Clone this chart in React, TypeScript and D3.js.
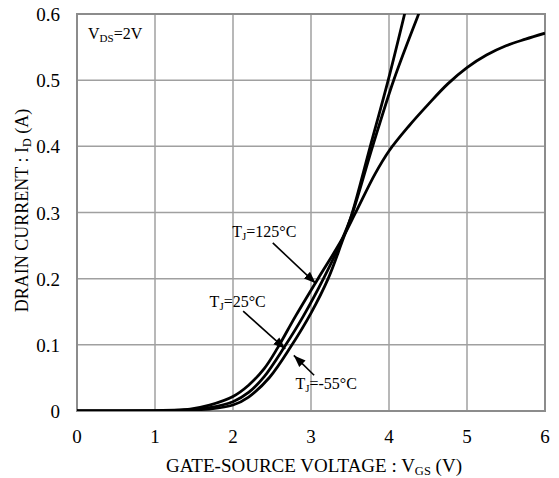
import React from 'react'
import * as d3 from 'd3'

// transfer characteristics
const vgs125 = [0, 1.0, 1.3, 1.45, 1.7, 2.0, 2.2, 2.4, 2.57, 2.8, 3.09, 3.39, 3.56, 3.82, 4.0, 4.25, 4.5, 4.75, 5.0, 5.25, 5.5, 5.75, 6.0]
const id125 = [0, 0.0005, 0.0015, 0.003, 0.009, 0.022, 0.039, 0.064, 0.095, 0.143, 0.2, 0.258, 0.297, 0.358, 0.393, 0.43, 0.463, 0.494, 0.519, 0.538, 0.552, 0.562, 0.571]

const vgs25 = [0, 1.0, 1.3, 1.45, 1.7, 2.0, 2.2, 2.4, 2.66, 2.9, 3.16, 3.39, 3.52, 3.79, 4.06, 4.38, 4.5]
const id25 = [0, 0.0003, 0.001, 0.002, 0.005, 0.014, 0.028, 0.052, 0.097, 0.143, 0.2, 0.257, 0.295, 0.4, 0.5, 0.6, 0.635]

const vgsM55 = [0, 1.0, 1.3, 1.45, 1.7, 2.0, 2.2, 2.47, 2.74, 3.0, 3.22, 3.39, 3.52, 3.76, 3.99, 4.2, 4.3]
const idM55 = [0, 0.0002, 0.0006, 0.0015, 0.003, 0.009, 0.021, 0.051, 0.097, 0.148, 0.2, 0.253, 0.296, 0.4, 0.5, 0.6, 0.65]

const xTicks = [0, 1, 2, 3, 4, 5, 6]
const yTicks = [0, 0.1, 0.2, 0.3, 0.4, 0.5, 0.6]

// annotations, in data units
const labelTemps = ['125°C', '25°C', '-55°C']
const labelPos = [[1.99, 0.263], [1.70, 0.157], [2.80, 0.034]]
const arrowFrom = [[2.51, 0.254], [2.13, 0.151], [3.04, 0.054]]
const arrowTip = [[3.06, 0.193], [2.67, 0.094], [2.78, 0.084]]

const W = 559
const H = 478
const margin = { left: 77, top: 14, right: 14, bottom: 67 }

export default function App() {
  const x = d3.scaleLinear().domain([0, 6]).range([margin.left, W - margin.right])
  const y = d3.scaleLinear().domain([0, 0.6]).range([H - margin.bottom, margin.top])

  const line = d3.line<[number, number]>()
    .x(d => x(d[0]))
    .y(d => y(d[1]))
    .curve(d3.curveCatmullRom.alpha(0.5))

  const series = [
    d3.zip(vgs125, id125) as [number, number][],
    d3.zip(vgs25, id25) as [number, number][],
    d3.zip(vgsM55, idM55) as [number, number][],
  ]

  const font = 'Liberation Serif, serif'
  const grid = '#a0a0a0'

  return (
    <svg width={W} height={H} style={{ position: 'absolute', left: 0, top: 0, background: '#fff' }}>
      <defs>
        <clipPath id="plot">
          <rect x={x(0)} y={y(0.6)} width={x(6) - x(0)} height={y(0) - y(0.6)} />
        </clipPath>
        <marker id="head" viewBox="0 0 12 10" refX="12" refY="5" markerWidth="12" markerHeight="10" markerUnits="userSpaceOnUse" orient="auto">
          <path d="M0,0.5 L12,5 L0,9.5 z" fill="#000" />
        </marker>
      </defs>

      {xTicks.map(t => (
        <line key={'gx' + t} x1={x(t)} x2={x(t)} y1={y(0)} y2={y(0.6)} stroke={grid} strokeWidth={1.5} />
      ))}
      {yTicks.map(t => (
        <line key={'gy' + t} x1={x(0)} x2={x(6)} y1={y(t)} y2={y(t)} stroke={grid} strokeWidth={1.5} />
      ))}
      <rect x={x(0)} y={y(0.6)} width={x(6) - x(0)} height={y(0) - y(0.6)} fill="none" stroke="#8c8c8c" strokeWidth={2} />

      <g fontFamily={font}>
        {xTicks.map(t => (
          <text key={'tx' + t} x={x(t)} y={y(0) + 32} fontSize={19} textAnchor="middle">{t}</text>
        ))}
        {yTicks.map(t => (
          <text key={'ty' + t} x={x(0) - 17} y={y(t) + 7} fontSize={19} textAnchor="end">{t === 0 ? '0' : t.toFixed(1)}</text>
        ))}
      </g>

      <g clipPath="url(#plot)">
        {series.map((s, i) => (
          <path key={'s' + i} d={line(s) || ''} fill="none" stroke="#000" strokeWidth={2.8} />
        ))}
      </g>

      <g fontFamily={font}>
        {labelTemps.map((t, i) => (
          <g key={'lab' + i}>
            <line x1={x(arrowFrom[i][0])} y1={y(arrowFrom[i][1])} x2={x(arrowTip[i][0])} y2={y(arrowTip[i][1])}
              stroke="#000" strokeWidth={1.6} markerEnd="url(#head)" />
            <text x={x(labelPos[i][0])} y={y(labelPos[i][1])} fontSize={16}>
              T<tspan fontSize={11} dy={3}>J</tspan><tspan dy={-3}>={t}</tspan>
            </text>
          </g>
        ))}

        <text x={x(0) + 11} y={y(0.6) + 25} fontSize={16}>
          V<tspan fontSize={11} dy={3}>DS</tspan><tspan dy={-3}>=2V</tspan>
        </text>

        <text x={(x(0) + x(6)) / 2 + 3} y={H - 6} fontSize={19} textAnchor="middle">
          GATE-SOURCE VOLTAGE : V<tspan fontSize={12.5} dy={3}>GS</tspan><tspan dy={-3}> (V)</tspan>
        </text>

        <text transform={`translate(28,${(y(0) + y(0.6)) / 2 - 2}) rotate(-90)`} fontSize={18} textAnchor="middle">
          DRAIN CURRENT : I<tspan fontSize={12} dy={3}>D</tspan><tspan dy={-3}> (A)</tspan>
        </text>
      </g>
    </svg>
  )
}
